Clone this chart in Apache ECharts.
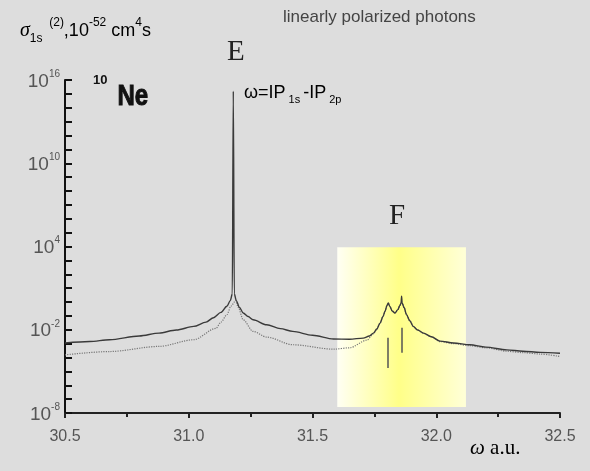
<!DOCTYPE html>
<html>
<head>
<meta charset="utf-8">
<script src="https://cdn.jsdelivr.net/npm/echarts@6/dist/echarts.min.js"></script>
<style>
  html, body { margin: 0; padding: 0; background: #dddddd; }
  #chart { width: 590px; height: 471px; }
</style>
</head>
<body>
<div id="chart"></div>
<script>
// photon energy (a.u.) and log10 of the cross section
const omegaSolid = [30.50, 30.60, 30.68, 30.80, 30.88, 30.95, 31.02, 31.07, 31.10, 31.13,
  31.154, 31.168, 31.176, 31.18, 31.184, 31.192, 31.205, 31.22, 31.24, 31.26,
  31.315, 31.37, 31.42, 31.50, 31.585, 31.65, 31.705, 31.73, 31.746, 31.76,
  31.773, 31.785, 31.793, 31.801, 31.806, 31.812, 31.822, 31.833, 31.845, 31.853,
  31.858, 31.860, 31.862, 31.870, 31.88, 31.893, 31.907, 31.925, 31.948, 31.98,
  32.015, 32.07, 32.136, 32.20, 32.285, 32.35, 32.42, 32.50]
const logSolid = [-2.96, -2.85, -2.72, -2.45, -2.24, -2.02, -1.76, -1.45, -1.13, -0.75,
  -0.31, 0.1, 0.6, 15.2, 0.6, 0.1, -0.4, -0.79, -1.05, -1.28,
  -1.64, -1.92, -2.12, -2.40, -2.67, -2.68, -2.6, -2.45, -2.24, -1.95,
  -1.52, -1.05, -0.67, -0.25, -0.07, -0.3, -0.65, -0.79, -0.55, -0.25,
  -0.07, 0.41, -0.07, -0.4, -0.91, -1.35, -1.76, -2.02, -2.24, -2.5,
  -2.82, -2.95, -3.08, -3.25, -3.45, -3.55, -3.63, -3.69]

const omegaDotted = [30.50, 30.68, 30.88, 31.02, 31.11, 31.13, 31.155, 31.17, 31.19, 31.2,
  31.22, 31.26, 31.315, 31.42, 31.585, 31.65, 31.72, 31.746, 31.76, 31.773,
  31.785, 31.793, 31.801, 31.806, 31.812, 31.822, 31.833, 31.845, 31.853, 31.858,
  31.862, 31.870, 31.88, 31.893, 31.907, 31.925, 31.948, 31.98, 32.015, 32.07,
  32.136, 32.20, 32.285, 32.35, 32.42, 32.50]
const logDotted = [-3.81, -3.57, -3.2, -2.72, -1.9, -1.45, -0.9, -0.3, 0.1, -0.4,
  -1.28, -2.12, -2.53, -3.08, -3.4, -3.3, -2.75, -2.3, -1.95, -1.52,
  -1.05, -0.67, -0.25, -0.07, -0.3, -0.65, -0.79, -0.55, -0.25, -0.07,
  -0.07, -0.4, -0.91, -1.35, -1.76, -2.02, -2.24, -2.5, -2.85, -3.0,
  -3.15, -3.3, -3.55, -3.65, -3.75, -3.93]

// resonance markers |1s^-1 3p> and |1s^-1 4p>: position, top and bottom (log10)
const markerOmega = [31.806, 31.862]
const markerTop = [-2.58, -1.86]
const markerBottom = [-4.75, -3.66]

// highlighted F region
const boxOmega = [31.6, 32.12]
const boxLog = [-7.57, 3.95]

const xTicks = [30.5, 31.0, 31.5, 32.0, 32.5]
const yLabelExp = [-8, -2, 4, 10, 16]

const toPairs = (xs, ls) => xs.map((x, i) => [x, Math.pow(10, ls[i])])

const chart = echarts.init(document.getElementById('chart'))

const SANS = "'Liberation Sans', Arial, sans-serif"
const SERIF = "'Liberation Serif', 'Times New Roman', serif"
const sup = { fontSize: 11, verticalAlign: 'top', fontFamily: SANS, color: '#333' }
const sub = { fontSize: 11, verticalAlign: 'bottom', fontFamily: SANS, color: '#333' }

chart.setOption({
  backgroundColor: '#dddddd',
  animation: false,
  grid: { left: 65, right: 30, top: 80, bottom: 58 },
  xAxis: {
    type: 'value',
    min: 30.5,
    max: 32.5,
    interval: 0.5,
    axisLine: { lineStyle: { color: '#222', width: 2 } },
    axisTick: { show: true, length: 5, lineStyle: { color: '#222', width: 2 } },
    minorTick: { show: true, splitNumber: 2, length: 4, lineStyle: { color: '#222', width: 2 } },
    splitLine: { show: false },
    axisLabel: {
      color: '#555', fontSize: 16, fontFamily: SANS, margin: 16,
      formatter: v => xTicks.includes(v) ? v.toFixed(1) : ''
    }
  },
  yAxis: {
    type: 'log',
    logBase: 10,
    min: 1e-8,
    max: 1e16,
    interval: 1,
    axisLine: { show: true, lineStyle: { color: '#111', width: 2 } },
    axisTick: { show: true, inside: true, length: 7, lineStyle: { color: '#111', width: 2 } },
    splitLine: { show: false },
    axisLabel: {
      margin: 5,
      formatter: v => {
        const e = Math.round(Math.log10(v))
        return yLabelExp.includes(e) ? '{b|10}{s|' + e + '}' : ''
      },
      rich: {
        b: { fontSize: 19, lineHeight: 22, verticalAlign: 'bottom', fontFamily: SANS, color: '#555' },
        s: { fontSize: 10, verticalAlign: 'top', fontFamily: SANS, color: '#555' }
      }
    }
  },
  series: [
    {
      type: 'line',
      name: 'solid',
      data: toPairs(omegaSolid, logSolid),
      showSymbol: false,
      sampling: 'none',
      smooth: 0.3,
      smoothMonotone: 'x',
      lineStyle: { color: '#3a3a3a', width: 1.4 },
      z: 3,
      markArea: {
        silent: true,
        itemStyle: {
          color: new echarts.graphic.LinearGradient(0, 0, 1, 0, [
            { offset: 0, color: '#fffff4' },
            { offset: 0.48, color: '#ffff88' },
            { offset: 1, color: '#ffffd8' }
          ])
        },
        data: [[
          { coord: [boxOmega[0], Math.pow(10, boxLog[0])] },
          { coord: [boxOmega[1], Math.pow(10, boxLog[1])] }
        ]]
      },
      markLine: {
        silent: true,
        symbol: 'none',
        label: { show: false },
        lineStyle: { color: '#555', width: 1.5, type: 'solid' },
        data: markerOmega.map((x, i) => [
          { coord: [x, Math.pow(10, markerTop[i])] },
          { coord: [x, Math.pow(10, markerBottom[i])] }
        ])
      }
    },
    {
      type: 'line',
      name: 'dotted',
      data: toPairs(omegaDotted, logDotted),
      showSymbol: false,
      sampling: 'none',
      smooth: 0.3,
      smoothMonotone: 'x',
      lineStyle: { color: '#777', width: 1.2, type: 'dotted' },
      z: 2
    }
  ],
  graphic: [
    {
      type: 'text', left: 20, top: 17,
      style: {
        text: '{g|σ}{sb|1s}{sp|  (2)}{t|,10}{sp|-52}{t| cm}{sp|4}{t|s}',
        rich: {
          g: { fontSize: 20, fontStyle: 'italic', fontFamily: SERIF, color: '#333', lineHeight: 28, verticalAlign: 'middle' },
          t: { fontSize: 18, fontFamily: SANS, color: '#333', lineHeight: 28, verticalAlign: 'middle' },
          sp: { fontSize: 12, verticalAlign: 'top', fontFamily: SANS, color: '#333' },
          sb: { fontSize: 12, verticalAlign: 'bottom', fontFamily: SANS, color: '#333' }
        }
      }
    },
    {
      type: 'text', left: 283, top: 9,
      style: { text: 'linearly polarized photons', fontSize: 17, fontFamily: SANS, fill: '#444' }
    },
    {
      type: 'text', left: 227, top: 38,
      style: { text: 'E', fontSize: 29, fontFamily: SERIF, fill: '#222' }
    },
    {
      type: 'text', left: 389, top: 202,
      style: { text: 'F', fontSize: 29, fontFamily: SERIF, fill: '#222' }
    },
    {
      type: 'text', left: 93, top: 74,
      style: { text: '10', fontSize: 13, fontWeight: 'bold', fontFamily: SANS, fill: '#111' }
    },
    {
      type: 'text', left: 117, top: 81, scaleX: 0.8,
      style: { text: 'Ne', fontSize: 30, fontWeight: 'bold', fontFamily: SANS, fill: '#111', stroke: '#111', lineWidth: 1 }
    },
    {
      type: 'text', left: 244, top: 84,
      style: {
        text: '{t|ω=IP}{sb|1s}{t|-IP}{sb|2p}',
        rich: {
          t: { fontSize: 18, fontFamily: SANS, color: '#333', lineHeight: 24, verticalAlign: 'middle' },
          sb: { fontSize: 11, verticalAlign: 'bottom', fontFamily: SANS, color: '#333', padding: [0, 3, 0, 3] }
        }
      }
    },
    {
      type: 'text', left: 396, top: 355,
      style: {
        text: '{t||1s}{sp|-1}{t|4p>}',
        rich: {
          t: { fontSize: 16, fontFamily: SANS, color: '#333', lineHeight: 22, verticalAlign: 'bottom' },
          sp: sup
        }
      }
    },
    {
      type: 'text', left: 355, top: 381,
      style: {
        text: '{t||1s}{sp|-1}{t|3p>}',
        rich: {
          t: { fontSize: 16, fontFamily: SANS, color: '#333', lineHeight: 22, verticalAlign: 'bottom' },
          sp: sup
        }
      }
    },
    {
      type: 'text', left: 470, top: 438,
      style: {
        text: '{w|ω}{t| a.u.}',
        rich: {
          w: { fontSize: 21, fontStyle: 'italic', fontFamily: SERIF, color: '#333' },
          t: { fontSize: 21, fontFamily: SERIF, color: '#333' }
        }
      }
    }
  ]
})
</script>
</body>
</html>
